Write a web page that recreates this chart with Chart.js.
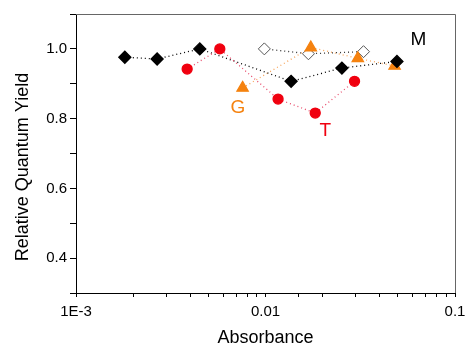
<!DOCTYPE html>
<html>
<head>
<meta charset="utf-8">
<script src="https://cdn.jsdelivr.net/npm/chart.js@4.4.1/dist/chart.umd.min.js"></script>
<style>
  html, body { margin: 0; padding: 0; background: #fff; }
  #wrap { width: 467px; height: 351px; }
</style>
</head>
<body>
<div id="wrap"><canvas id="grafico" width="467" height="351"></canvas></div>
<script>
// M (filled diamonds)
var absM = [0.00181, 0.00268, 0.0045, 0.01365, 0.0253, 0.0494];
var rendM = [0.976, 0.971, 1.0, 0.907, 0.945, 0.964];
// M open diamonds
var absMAberto = [0.00986, 0.01685, 0.0329];
var rendMAberto = [1.0, 0.986, 0.992];
// G (triangles)
var absG = [0.00757, 0.01734, 0.0307, 0.048];
var rendG = [0.888, 1.004, 0.973, 0.951];
// T (circles)
var absT = [0.00386, 0.00574, 0.01165, 0.0183, 0.0295];
var rendT = [0.942, 1.0, 0.856, 0.816, 0.907];

var rotulosX = { '0.001': '1E-3', '0.01': '0.01', '0.1': '0.1' };
var rotulosY = [0.4, 0.6, 0.8, 1.0];

// labels placed in data space
var anotacoes = [
  { texto: 'M', x: 0.0641, y: 1.026, cor: '#000000' },
  { texto: 'G', x: 0.00715, y: 0.831, cor: '#f5820f' },
  { texto: 'T', x: 0.0207, y: 0.766, cor: '#f0000f' }
];

var fonte = '"Liberation Sans", Arial, sans-serif';

function pontos(xs, ys) {
  return xs.map(function(x, i){ return { x: x, y: ys[i] }; });
}

var pluginMoldura = {
  id: 'moldura',
  afterDraw: function(chart) {
    var ctx = chart.ctx, a = chart.chartArea;
    ctx.save();
    ctx.strokeStyle = '#666';
    ctx.lineWidth = 1;
    ctx.beginPath();
    ctx.moveTo(a.left, a.top + 0.5);
    ctx.lineTo(a.right + 0.5, a.top + 0.5);
    ctx.lineTo(a.right + 0.5, a.bottom);
    ctx.stroke();
    ctx.font = '19px ' + fonte;
    ctx.textAlign = 'center';
    ctx.textBaseline = 'middle';
    anotacoes.forEach(function(n){
      ctx.fillStyle = n.cor;
      ctx.fillText(n.texto, chart.scales.x.getPixelForValue(n.x), chart.scales.y.getPixelForValue(n.y));
    });
    // y axis title
    ctx.fillStyle = '#000';
    ctx.font = '18px ' + fonte;
    ctx.translate(23, 167);
    ctx.rotate(-Math.PI / 2);
    ctx.fillText('Relative Quantum Yield', 0, 0);
    ctx.restore();
  }
};

var grafico = new Chart(document.getElementById('grafico').getContext('2d'), {
  type: 'line',
  data: {
    datasets: [
      {
        label: 'M',
        data: pontos(absM, rendM),
        borderColor: '#000',
        borderWidth: 1.3,
        borderDash: [1, 3],
        pointStyle: 'rectRot',
        pointRadius: 6,
        pointBackgroundColor: '#000',
        pointBorderColor: '#000',
        order: 1
      },
      {
        label: 'M aberto',
        data: pontos(absMAberto, rendMAberto),
        borderColor: '#333',
        borderWidth: 1.3,
        borderDash: [1, 3],
        pointStyle: 'rectRot',
        pointRadius: 6,
        pointBackgroundColor: '#fff',
        pointBorderColor: '#555',
        pointBorderWidth: 1,
        order: 3
      },
      {
        label: 'G',
        data: pontos(absG, rendG),
        borderColor: '#f7a55a',
        borderWidth: 1.3,
        borderDash: [1, 3],
        pointStyle: 'triangle',
        pointRadius: 6.5,
        pointBackgroundColor: '#f5820f',
        pointBorderColor: '#f5820f',
        order: 2
      },
      {
        label: 'T',
        data: pontos(absT, rendT),
        borderColor: '#e84a6a',
        borderWidth: 1.3,
        borderDash: [1, 3],
        pointStyle: 'circle',
        pointRadius: 5,
        pointBackgroundColor: '#f0000f',
        pointBorderColor: '#f0000f',
        order: 0
      }
    ]
  },
  plugins: [pluginMoldura],
  options: {
    responsive: false,
    animation: false,
    layout: { padding: { top: 14, right: 12, left: 0, bottom: 0 } },
    plugins: {
      legend: { display: false },
      tooltip: { enabled: false }
    },
    scales: {
      x: {
        type: 'logarithmic',
        min: 0.001,
        max: 0.1,
        afterFit: function(s){ s.height = 58; s.paddingRight = 0; s.paddingLeft = 0; },
        border: { display: true, color: '#000', width: 1 },
        grid: { display: true, drawOnChartArea: false, drawTicks: true, tickLength: 4, color: '#000' },
        ticks: {
          autoSkip: false,
          maxRotation: 0,
          color: '#000',
          padding: 6,
          font: { family: fonte, size: 15 },
          callback: function(v){
            var k = String(Number(v.toPrecision(3)));
            return rotulosX[k] || '';
          }
        },
        title: {
          display: true,
          text: 'Absorbance',
          color: '#000',
          font: { family: fonte, size: 18 },
          padding: { top: 4, bottom: 2 }
        }
      },
      y: {
        min: 0.3,
        max: 1.1,
        afterFit: function(s){ s.width = 76; s.paddingTop = 0; s.paddingBottom = 0; },
        border: { display: true, color: '#000', width: 1 },
        grid: { display: true, drawOnChartArea: false, drawTicks: true, tickLength: 6, color: '#000' },
        ticks: {
          stepSize: 0.1,
          color: '#000',
          padding: 3,
          font: { family: fonte, size: 15 },
          callback: function(v){
            var r = Math.round(v * 10) / 10;
            return rotulosY.indexOf(r) >= 0 ? r.toFixed(1) : '';
          }
        }
      }
    }
  }
});
</script>
</body>
</html>
